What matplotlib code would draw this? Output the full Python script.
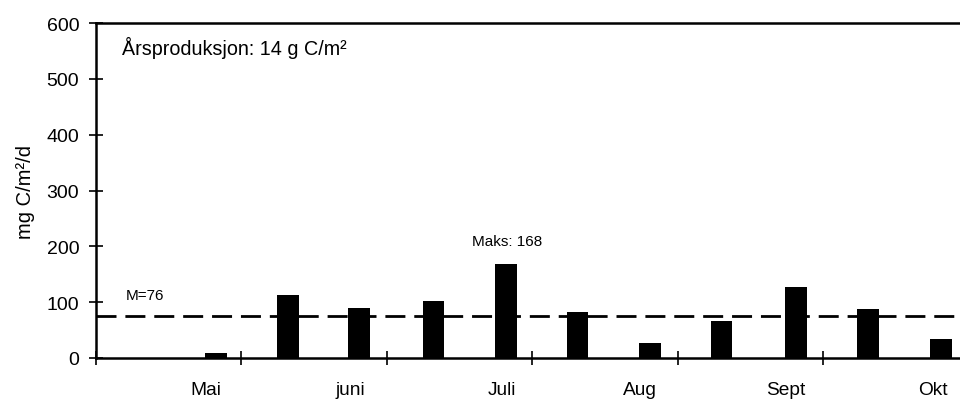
import matplotlib
matplotlib.use("Agg")
from matplotlib import pyplot as plt

plt.rcParams['font.family'] = ['Liberation Sans', 'DejaVu Sans']

# sampling positions in month units (0 = first tick) and production values
positions = [0.825, 1.32, 1.81, 2.32, 2.82, 3.31, 3.81, 4.30, 4.81, 5.31, 5.81]
production = [9, 112, 89, 102, 168, 82, 27, 67, 128, 88, 34]
mean_value = 76
month_ticks = [0, 1, 2, 3, 4, 5]
month_label_pos = [0.755, 1.745, 2.79, 3.74, 4.74, 5.755]
month_labels = ['Mai', 'juni', 'Juli', 'Aug', 'Sept', 'Okt']

fig = plt.figure(figsize=(9.6, 4.02), dpi=100)
ax = fig.add_axes([0.1, 0.107, 0.9, 0.833])

ax.bar(positions, production, width=0.15, color='black')
ax.axhline(mean_value, color='black', lw=2, dashes=(7.2, 3.2))

ax.set_xlim(0, 5.94)
ax.set_ylim(0, 600)
ax.set_yticks(range(0, 601, 100))
ax.set_xticks(month_ticks)
ax.set_xticklabels([])
for p, lab in zip(month_label_pos, month_labels):
    ax.text(p, -56, lab, ha='center', va='center', fontsize=13.8)

ax.tick_params(axis='both', direction='inout', length=10, width=1.2, labelsize=14)
ax.tick_params(axis='y', pad=7)
ax.spines['right'].set_visible(False)
for s in ['left', 'top', 'bottom']:
    ax.spines[s].set_linewidth(1.8)

ax.set_ylabel('mg C/m²/d', fontsize=14.5, labelpad=8)

ax.text(0.18, 557, 'Årsproduksjon: 14 g C/m²', fontsize=14.2, va='center')
ax.text(0.205, 113, 'M=76', fontsize=11, va='center')
ax.text(2.585, 210, 'Maks: 168', fontsize=11, va='center')

fig.savefig('out.png', dpi=100)
